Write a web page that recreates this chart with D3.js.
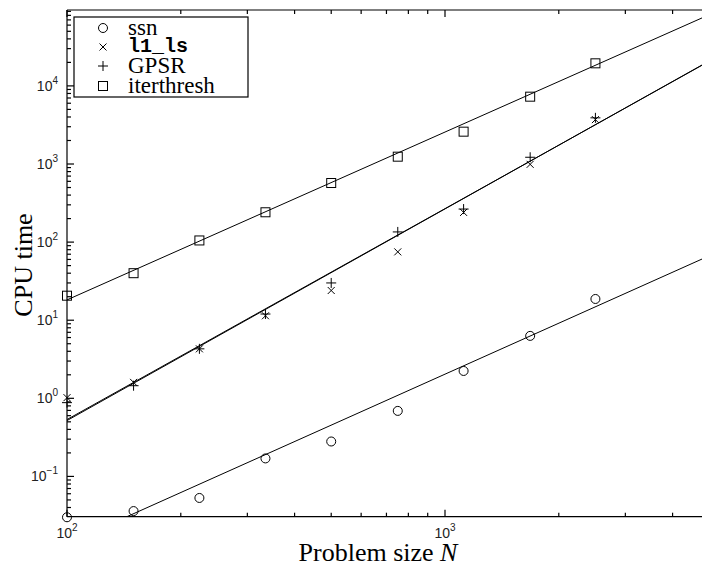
<!DOCTYPE html>
<html>
<head>
<meta charset="utf-8">
<script src="https://cdn.jsdelivr.net/npm/d3@7"></script>
<style>
  body { margin: 0; background: #fff; }
  svg { display: block; }
</style>
</head>
<body>
<svg width="702" height="569"></svg>
<script>
// problem sizes
let sizes = [100, 150, 224, 335, 500, 750, 1120, 1680, 2500];

// CPU time per method
let ssn        = [0.03, 0.036, 0.053, 0.17, 0.28, 0.69, 2.24, 6.3, 18.7];
let l1ls       = [1.02, 1.6, 4.3, 11.4, 24, 75, 240, 990, 3700];
let gpsr       = [0.88, 1.45, 4.3, 12, 30, 135, 265, 1220, 3900];
let iterthresh = [20.6, 40, 105, 241, 571, 1241, 2594, 7277, 19460];

// fitted power laws: time = fitAt100 * (N/100)^fitExp
let fitAt100 = [0.01384, 0.519, 0.535, 18.2];
let fitExp   = [2.168, 2.71, 2.70, 2.149];

let names   = ['ssn', 'l1_ls', 'GPSR', 'iterthresh'];
let symbols = ['circle', 'cross', 'plus', 'square'];
let series  = [ssn, l1ls, gpsr, iterthresh];

let xTicks = [100, 1000];
let yTicks = [0.1, 1, 10, 100, 1000, 10000];

let padLeft = 67, padTop = 10, padBottom = 516.7;
let x = d3.scaleLog().domain([100, 5000]).range([padLeft, padLeft + 378 * Math.log10(50)]);
let y = d3.scaleLog().domain([0.0305, 93700]).range([padBottom, padTop]);

let svg = d3.select('svg');

svg.append('defs').append('clipPath').attr('id', 'clip')
  .append('rect')
  .attr('x', x.range()[0]).attr('y', padTop)
  .attr('width', x.range()[1] - x.range()[0]).attr('height', padBottom - padTop);

// fit lines
let plot = svg.append('g').attr('clip-path', 'url(#clip)');
let line = d3.line().x(function(d) { return x(d[0]); }).y(function(d) { return y(d[1]); });
series.forEach(function(s, i) {
  let ends = x.domain().map(function(n) { return [n, fitAt100[i] * Math.pow(n / 100, fitExp[i])]; });
  plot.append('path')
    .attr('d', line(ends))
    .attr('fill', 'none')
    .attr('stroke', '#000')
    .attr('stroke-width', 1);
});

function marker(g, type) {
  if (type === 'circle') {
    g.append('circle').attr('r', 4.5);
  } else if (type === 'square') {
    g.append('rect').attr('x', -4.5).attr('y', -4.5).attr('width', 9).attr('height', 9);
  } else if (type === 'cross') {
    g.append('path').attr('d', 'M-3.5,-3.5L3.5,3.5M-3.5,3.5L3.5,-3.5');
  } else {
    g.append('path').attr('d', 'M-5,0L5,0M0,-5L0,5');
  }
  g.attr('fill', 'none').attr('stroke', '#000').attr('stroke-width', 1);
}

// markers (not clipped, like the reference)
series.forEach(function(s, i) {
  svg.append('g')
    .selectAll('g')
    .data(s.map(function(v, j) { return [sizes[j], v]; }))
    .join('g')
    .attr('transform', function(d) { return 'translate(' + x(d[0]) + ',' + y(d[1]) + ')'; })
    .each(function() { marker(d3.select(this), symbols[i]); });
});

// axes with inward ticks
let axes = svg.append('g').attr('stroke', '#000').attr('stroke-width', 1.2);
let xr = x.range();
axes.append('line').attr('x1', xr[0]).attr('x2', xr[1]).attr('y1', padBottom).attr('y2', padBottom);
axes.append('line').attr('x1', xr[0]).attr('x2', xr[1]).attr('y1', padTop).attr('y2', padTop);
axes.append('line').attr('x1', padLeft).attr('x2', padLeft).attr('y1', padTop).attr('y2', padBottom);
axes.append('line').attr('x1', xr[1]).attr('x2', xr[1]).attr('y1', padTop).attr('y2', padBottom);

function isMajor(v) {
  let l = Math.log10(v);
  return Math.abs(l - Math.round(l)) < 1e-9;
}

x.ticks().forEach(function(v) {
  let len = isMajor(v) ? 7 : 4;
  let px = x(v);
  axes.append('line').attr('x1', px).attr('x2', px).attr('y1', padBottom).attr('y2', padBottom - len);
  axes.append('line').attr('x1', px).attr('x2', px).attr('y1', padTop).attr('y2', padTop + len);
});
y.ticks().forEach(function(v) {
  let len = isMajor(v) ? 7 : 4;
  let py = y(v);
  axes.append('line').attr('x1', padLeft).attr('x2', padLeft + len).attr('y1', py).attr('y2', py);
  axes.append('line').attr('x1', xr[1]).attr('x2', xr[1] - len).attr('y1', py).attr('y2', py);
});

// tick labels 10^k
function powLabel(sel, v) {
  let e = Math.round(Math.log10(v));
  sel.append('tspan').text('10');
  sel.append('tspan').attr('dy', -7).attr('font-size', 10)
    .text(e < 0 ? '\u2212' + (-e) : String(e));
}

xTicks.forEach(function(v) {
  let t = svg.append('text')
    .attr('x', x(v)).attr('y', 538)
    .attr('text-anchor', 'middle')
    .attr('font-family', 'Liberation Sans, Arial, sans-serif')
    .attr('font-size', 14).attr('fill', '#222');
  powLabel(t, v);
});
yTicks.forEach(function(v) {
  let t = svg.append('text')
    .attr('x', 58).attr('y', y(v) + 5)
    .attr('text-anchor', 'end')
    .attr('font-family', 'Liberation Sans, Arial, sans-serif')
    .attr('font-size', 14).attr('fill', '#222');
  powLabel(t, v);
});

// axis titles
svg.append('text')
  .attr('transform', 'translate(32,265) rotate(-90)')
  .attr('text-anchor', 'middle')
  .attr('font-family', 'Liberation Serif, Times New Roman, serif')
  .attr('font-size', 26)
  .text('CPU time');

let xt = svg.append('text')
  .attr('x', 378).attr('y', 561)
  .attr('text-anchor', 'middle')
  .attr('font-family', 'Liberation Serif, Times New Roman, serif')
  .attr('font-size', 26);
xt.append('tspan').text('Problem size ');
xt.append('tspan').attr('font-style', 'italic').text('N');

// legend
let legend = svg.append('g');
legend.append('rect')
  .attr('x', 74).attr('y', 17).attr('width', 174).attr('height', 80)
  .attr('fill', '#fff').attr('stroke', '#000').attr('stroke-width', 1.2);
let rows = [28, 47, 66, 86];
names.forEach(function(n, i) {
  let g = legend.append('g').attr('transform', 'translate(103,' + rows[i] + ')');
  marker(g, symbols[i]);
  let mono = n === 'l1_ls';
  legend.append('text')
    .attr('x', 128).attr('y', rows[i] + (mono ? 5 : 7))
    .attr('font-family', mono ? 'Liberation Mono, monospace' : 'Liberation Serif, Times New Roman, serif')
    .attr('font-weight', mono ? 'bold' : null)
    .attr('font-size', mono ? 20 : 23)
    .text(n);
});
</script>
</body>
</html>
